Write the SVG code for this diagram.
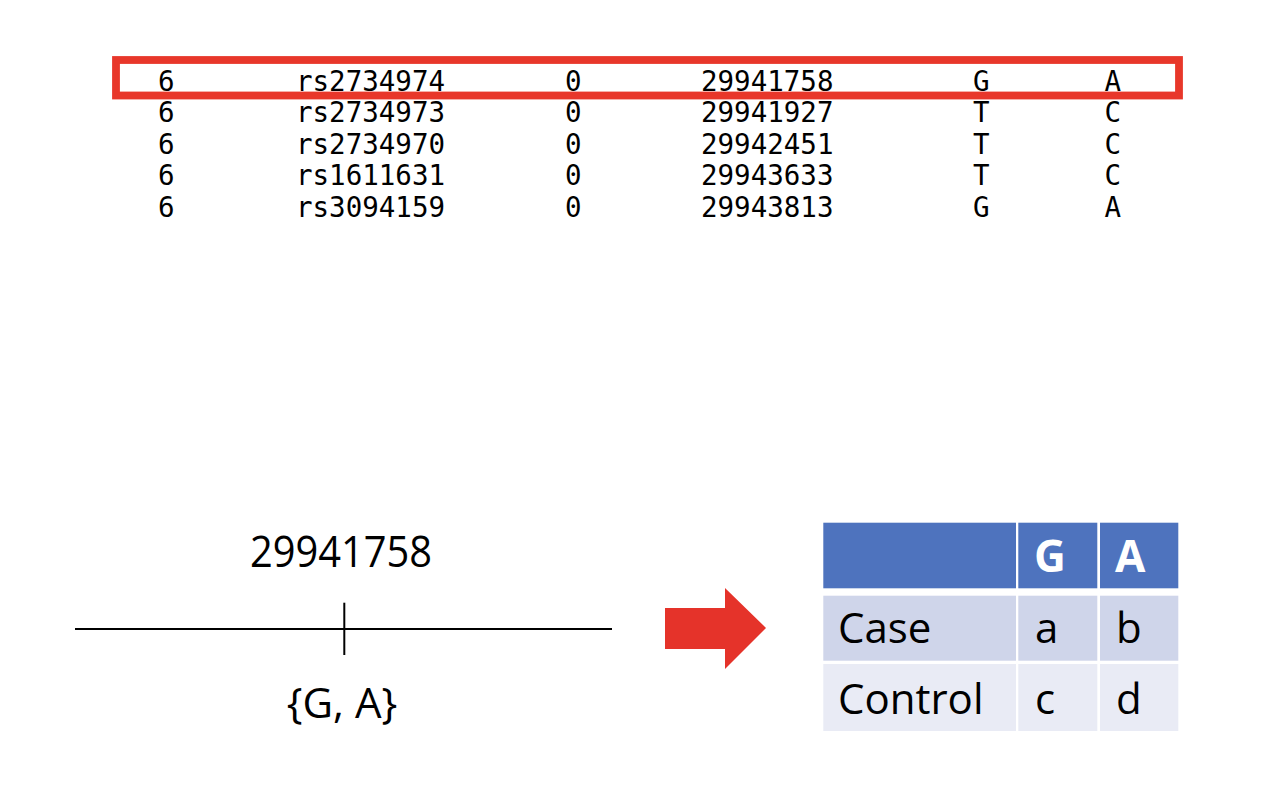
<svg xmlns="http://www.w3.org/2000/svg" width="1268" height="792" viewBox="0 0 1268 792">
<style>
.mono{font-family:"DejaVu Sans Mono","Liberation Mono",monospace;font-size:27.5px;fill:#000}
.sans{font-family:"Open Sans","Noto Sans",sans-serif;fill:#000}
.hdr{fill:#4E73BE}
.r1{fill:#CFD5EA}
.r2{fill:#E9EBF5}
.ht{font-family:"Open Sans","Noto Sans",sans-serif;font-weight:bold;font-size:44px;fill:#fff}
.bt{font-family:"Open Sans","Noto Sans",sans-serif;font-size:42px;fill:#000}
</style>
<rect width="1268" height="792" fill="#fff"/>
<g id="data-table">
<text class="mono" x="158" y="90.5">6</text><text class="mono" x="296" y="90.5">rs2734974</text><text class="mono" x="565" y="90.5">0</text><text class="mono" x="701" y="90.5">29941758</text><text class="mono" x="973" y="90.5">G</text><text class="mono" x="1104.5" y="90.5">A</text>
<text class="mono" x="158" y="122">6</text><text class="mono" x="296" y="122">rs2734973</text><text class="mono" x="565" y="122">0</text><text class="mono" x="701" y="122">29941927</text><text class="mono" x="973" y="122">T</text><text class="mono" x="1104.5" y="122">C</text>
<text class="mono" x="158" y="153.5">6</text><text class="mono" x="296" y="153.5">rs2734970</text><text class="mono" x="565" y="153.5">0</text><text class="mono" x="701" y="153.5">29942451</text><text class="mono" x="973" y="153.5">T</text><text class="mono" x="1104.5" y="153.5">C</text>
<text class="mono" x="158" y="185">6</text><text class="mono" x="296" y="185">rs1611631</text><text class="mono" x="565" y="185">0</text><text class="mono" x="701" y="185">29943633</text><text class="mono" x="973" y="185">T</text><text class="mono" x="1104.5" y="185">C</text>
<text class="mono" x="158" y="216.7">6</text><text class="mono" x="296" y="216.7">rs3094159</text><text class="mono" x="565" y="216.7">0</text><text class="mono" x="701" y="216.7">29943813</text><text class="mono" x="973" y="216.7">G</text><text class="mono" x="1104.5" y="216.7">A</text>
</g>
<g id="highlight">
<rect x="116" y="60" width="1063" height="35.5" fill="none" stroke="#E8372A" stroke-width="7.8"/>
</g>
<g id="locus">
<text class="sans" x="250" y="566.7" font-size="44" textLength="182" lengthAdjust="spacingAndGlyphs">29941758</text>
<line x1="75" y1="629" x2="612" y2="629" stroke="#000" stroke-width="2"/>
<line x1="344.3" y1="602.7" x2="344.3" y2="655" stroke="#000" stroke-width="2"/>
<text class="sans" x="342" y="718.3" font-size="42" text-anchor="middle">{G, A}</text>
</g>
<g id="connectors">
<polygon points="665,608 725,608 725,588 766,628 725,669 725,649 665,649" fill="#E5332A"/>
</g>
<g id="contingency-table">
<rect class="hdr" x="823.3" y="522.7" width="192.7" height="65.6"/>
<rect class="hdr" x="1018.3" y="522.7" width="79" height="65.6"/>
<rect class="hdr" x="1100" y="522.7" width="78.3" height="65.6"/>
<rect class="r1" x="823.3" y="595.7" width="192.7" height="65"/>
<rect class="r1" x="1018.3" y="595.7" width="79" height="65"/>
<rect class="r1" x="1100" y="595.7" width="78.3" height="65"/>
<rect class="r2" x="823.3" y="664" width="192.7" height="67"/>
<rect class="r2" x="1018.3" y="664" width="79" height="67"/>
<rect class="r2" x="1100" y="664" width="78.3" height="67"/>
<text class="ht" x="1034" y="572">G</text>
<text class="ht" x="1115" y="572">A</text>
<text class="bt" x="838" y="643">Case</text>
<text class="bt" x="1035" y="643">a</text>
<text class="bt" x="1116" y="643">b</text>
<text class="bt" x="838" y="714">Control</text>
<text class="bt" x="1035" y="714">c</text>
<text class="bt" x="1116" y="714">d</text>
</g>
</svg>
